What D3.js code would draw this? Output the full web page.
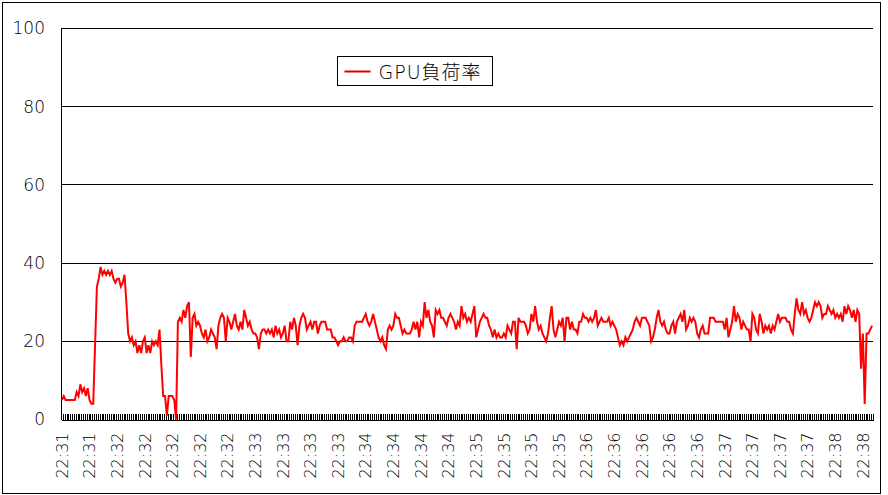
<!DOCTYPE html>
<html>
<head>
<meta charset="utf-8">
<script src="https://cdn.jsdelivr.net/npm/d3@7"></script>
<style>
  body { margin: 0; background: #fff; }
  text { font-family: "DejaVu Sans", "Noto Sans CJK JP", sans-serif; font-weight: 200; fill: #000; }
</style>
</head>
<body>
<div id="chart"></div>
<script>
// Category labels shown on the x axis (one every labelStep samples)
const xLabels = [
  "22:31", "22:31",
  "22:32", "22:32", "22:32", "22:32", "22:32",
  "22:33", "22:33", "22:33", "22:33",
  "22:34", "22:34", "22:34", "22:34",
  "22:35", "22:35", "22:35", "22:35",
  "22:36", "22:36", "22:36", "22:36", "22:36",
  "22:37", "22:37", "22:37", "22:37",
  "22:38", "22:38"
];
const labelStep = 15;

// GPU load (%) per sample
const gpuLoad = [
  5,6,5,5,5,5,5,5,7,6, 9,7,8,6,8,5,4,4,19,34,
  36,39,37,38,37,38,37,38,36,35, 36,36,34,35,37,30,22,20,21,19,
  20,17,19,17,20,21,17,19,17,20, 19,20,19,23,14,6,6,1,6,6,
  6,5,0,25,26,25,28,26,29,30, 16,26,27,24,25,24,22,21,23,20,
  21,23,22,21,18,24,26,27,26,20, 26,25,23,25,27,24,23,25,23,28,
  26,24,25,23,22,22,21,18,22,23,23,
  22,23,22,23,21,24,22,23,21,22, 24,20,20,25,23,26,24,19,24,26,
  27,26,23,24,25,23,25,25,22,24, 25,25,25,23,23,23,21,21,20,19,
  20,20,21,20,20,21,21,20,24,25, 25,25,25,26,27,25,24,25,27,25,
  23,21,20,21,19,18,23,24,23,24, 27,26,26,24,22,23,22,22,22,23,
  25,23,25,21,25,24,30,26,28,25, 24,21,28,27,28,26,26,25,24,26,
  27,26,25,23,25,24,29,26,27,25,26,
  25,27,29,21,23,25,26,27,26,26, 24,23,21,23,21,22,21,21,22,21,
  24,23,22,25,25,18,26,25,25,25, 24,22,23,27,25,29,25,23,24,22,
  21,20,22,26,29,23,21,23,25,24, 26,20,26,26,23,25,23,23,22,25,
  25,27,26,26,25,26,25,26,28,24, 25,26,25,25,25,26,24,25,24,23,
  21,19,20,19,21,20,21,22,23,25, 26,25,24,26,26,26,25,24,20,21,
  23,26,28,25,24,25,23,22,22,24,25,22,
  25,26,27,25,28,23,24,26,25,26, 25,22,21,23,24,22,22,22,26,26,
  26,25,25,25,25,25,23,26,21,23, 25,29,25,27,26,23,25,24,23,23,
  20,27,26,23,22,27,25,22,24,23, 24,22,24,23,25,27,25,26,26,26,
  25,25,23,22,27,31,28,27,30,27, 28,26,25,26,28,30,29,30,29,26,
  27,27,29,28,27,28,26,27,26,27, 25,29,27,29,28,26,28,25,28,27,
  13,22,4,22,22,23,24
];

const yTicks = [0, 20, 40, 60, 80, 100];
const seriesName = "GPU負荷率";

// Chart size and plot area
const totalWidth = 888, totalHeight = 495;
const plot = { left: 61, right: 873, top: 28.5, bottom: 419.5 };

const svg = d3.select("#chart")
  .append("svg")
    .attr("width", totalWidth)
    .attr("height", totalHeight);

// Outer chart border
svg.append("rect")
  .attr("x", 2.5)
  .attr("y", 2.5)
  .attr("width", 878)
  .attr("height", 491)
  .attr("fill", "#fff")
  .attr("stroke", "#000")
  .attr("stroke-width", 1);

// Scales
const n = gpuLoad.length;
const x = d3.scaleBand().domain(d3.range(n)).range([plot.left, plot.right]).padding(0);
const xEdge = d3.scaleLinear().domain([0, n]).range([plot.left, plot.right]);
const y = d3.scaleLinear().domain([0, 100]).range([plot.bottom, plot.top]);

// Horizontal gridlines
svg.append("g")
  .attr("shape-rendering", "crispEdges")
  .selectAll("line")
  .data(yTicks.filter(d => d > 0))
  .enter().append("line")
    .attr("x1", plot.left)
    .attr("x2", plot.right)
    .attr("y1", d => y(d))
    .attr("y2", d => y(d))
    .attr("stroke", "#000");

// Y axis
const yAxis = svg.append("g")
  .attr("transform", `translate(${plot.left},0)`)
  .attr("shape-rendering", "crispEdges")
  .call(d3.axisLeft(y).tickValues(yTicks).tickSize(0).tickPadding(16));
yAxis.select(".domain").attr("stroke", "#000");
yAxis.selectAll("text")
  .style("font-size", "17px")
  .style("font-family", "DejaVu Sans");

// X axis: one inner tick per sample boundary
const xTicks = svg.append("g")
  .attr("transform", `translate(0,${plot.bottom})`)
  .attr("shape-rendering", "crispEdges")
  .call(d3.axisBottom(xEdge)
    .tickValues(d3.range(n + 1))
    .tickSizeInner(-6)
    .tickSizeOuter(0)
    .tickFormat(""));
xTicks.selectAll("line").attr("stroke", "#000");
xTicks.select(".domain").attr("stroke", "#000");

// X axis labels, rotated
const labelAxis = svg.append("g")
  .attr("transform", `translate(0,${plot.bottom})`)
  .call(d3.axisBottom(x)
    .tickValues(d3.range(0, n, labelStep).slice(0, xLabels.length))
    .tickSize(0)
    .tickFormat(i => xLabels[i / labelStep]));
labelAxis.select(".domain").remove();
labelAxis.selectAll("text")
  .attr("transform", "rotate(-90)")
  .attr("x", -13)
  .attr("y", 0)
  .attr("dy", "0.36em")
  .style("text-anchor", "end")
  .style("font-size", "16px")
  .style("font-family", "DejaVu Sans");

// Data line
const line = d3.line()
  .x((d, i) => x(i) + x.bandwidth() / 2)
  .y(d => y(d));

svg.append("path")
  .datum(gpuLoad)
  .attr("fill", "none")
  .attr("stroke", "#ff0000")
  .attr("stroke-width", 2)
  .attr("d", line);

// Legend
const legend = svg.append("g")
  .attr("transform", "translate(337.5,56.5)");

legend.append("rect")
  .attr("width", 155)
  .attr("height", 29)
  .attr("fill", "#fff")
  .attr("stroke", "#000");

legend.append("line")
  .attr("x1", 7)
  .attr("x2", 33)
  .attr("y1", 15)
  .attr("y2", 15)
  .attr("stroke", "#dd0000")
  .attr("stroke-width", 2);

legend.append("text")
  .attr("x", 41)
  .attr("y", 22)
  .style("font-size", "19px")
  .style("letter-spacing", "1px")
  .text(seriesName);
</script>
</body>
</html>
